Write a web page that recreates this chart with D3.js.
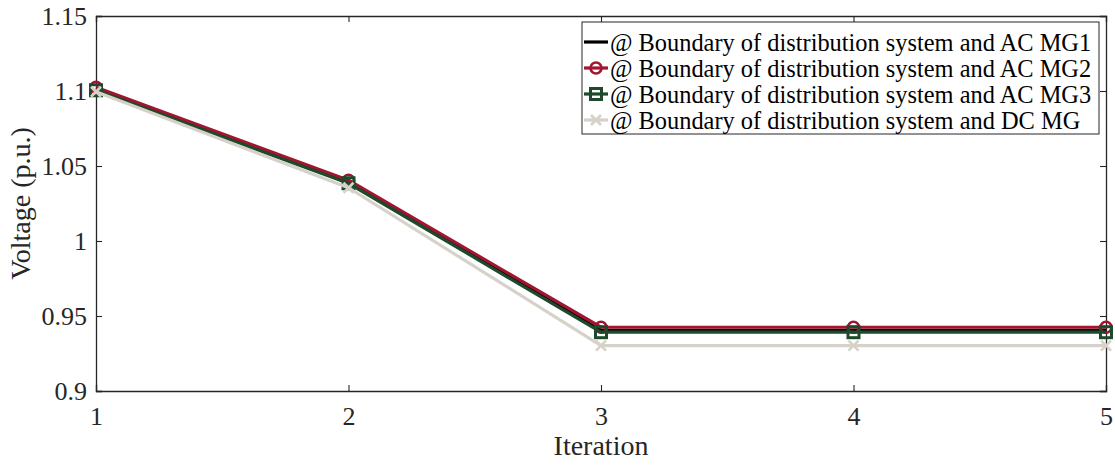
<!DOCTYPE html>
<html>
<head>
<meta charset="utf-8">
<script src="https://cdn.jsdelivr.net/npm/d3@7"></script>
<style>
  html, body { margin: 0; padding: 0; background: #fff; }
  svg { display: block; }
  svg text { font-family: "Liberation Serif", "Times New Roman", serif !important; }
  .tick text { font-size: 26px !important; fill: #262626; }
</style>
</head>
<body>
<svg id="chart" width="1115" height="465"></svg>
<script>
// Iterations on the x axis
const iterations = [1, 2, 3, 4, 5];

// Boundary voltages (p.u.) per iteration
const mg1Voltage = [1.1015, 1.0395, 0.9405, 0.9405, 0.9405];
const mg2Voltage = [1.1025, 1.0405, 0.9425, 0.9425, 0.9425];
const mg3Voltage = [1.1005, 1.0385, 0.9392, 0.9392, 0.9392];
const dcVoltage  = [1.0995, 1.0355, 0.9303, 0.9303, 0.9303];

const seriesNames = [
  "@ Boundary of distribution system and AC MG1",
  "@ Boundary of distribution system and AC MG2",
  "@ Boundary of distribution system and AC MG3",
  "@ Boundary of distribution system and DC MG"
];

const xTicks = [1, 2, 3, 4, 5];
const yTicks = [0.9, 0.95, 1, 1.05, 1.1, 1.15];

const series = [
  { name: seriesNames[0], values: mg1Voltage, color: "#000000", marker: "none" },
  { name: seriesNames[1], values: mg2Voltage, color: "#A2142F", marker: "circle" },
  { name: seriesNames[2], values: mg3Voltage, color: "#1D4A2B", marker: "square" },
  { name: seriesNames[3], values: dcVoltage,  color: "#D6D2CA", marker: "cross" }
];

const margin = { left: 96, right: 9, top: 16, bottom: 74 };
const W = 1115, H = 465;
const svg = d3.select("#chart");

const x = d3.scaleLinear().domain([1, 5]).range([margin.left, W - margin.right]);
const y = d3.scaleLinear().domain([0.9, 1.15]).range([H - margin.bottom, margin.top]);

const fmt = d => String(+d.toFixed(2));
const tickLen = 6;
const axisColor = "#262626";

// Axes with inward ticks, mirrored on top and right to box the plot
const gBottom = svg.append("g").attr("transform", `translate(0,${y(0.9)})`)
  .call(d3.axisBottom(x).tickValues(xTicks).tickSize(-tickLen).tickPadding(16).tickFormat(fmt));
const gLeft = svg.append("g").attr("transform", `translate(${x(1)},0)`)
  .call(d3.axisLeft(y).tickValues(yTicks).tickSize(-tickLen).tickPadding(9).tickFormat(fmt));
const gTop = svg.append("g").attr("transform", `translate(0,${y(1.15)})`)
  .call(d3.axisTop(x).tickValues(xTicks).tickSize(-tickLen).tickFormat(""));
const gRight = svg.append("g").attr("transform", `translate(${x(5)},0)`)
  .call(d3.axisRight(y).tickValues(yTicks).tickSize(-tickLen).tickFormat(""));

[gBottom, gLeft, gTop, gRight].forEach(g => {
  g.attr("font-family", null).attr("font-size", null);
  g.select(".domain").attr("stroke", axisColor).attr("stroke-width", 1.3);
  g.selectAll(".tick line").attr("stroke", axisColor).attr("stroke-width", 1.1);
});

// Axis titles
svg.append("text").attr("x", (x(1) + x(5)) / 2).attr("y", 455)
  .attr("text-anchor", "middle").attr("fill", "#262626")
  .style("font-size", "28px").text("Iteration");
svg.append("text").attr("transform", `translate(30,${(y(0.9) + y(1.15)) / 2}) rotate(-90)`)
  .attr("text-anchor", "middle").attr("fill", "#262626")
  .style("font-size", "28px").text("Voltage (p.u.)");

// Marker drawing
function drawMarker(g, type, color, cx, cy) {
  if (type === "circle") {
    g.append("circle").attr("cx", cx).attr("cy", cy).attr("r", 5.5)
      .attr("fill", "none").attr("stroke", color).attr("stroke-width", 2.6);
  } else if (type === "square") {
    g.append("rect").attr("x", cx - 5.5).attr("y", cy - 5.5).attr("width", 11).attr("height", 11)
      .attr("fill", "none").attr("stroke", color).attr("stroke-width", 3);
  } else if (type === "cross") {
    const s = 5;
    g.append("path").attr("d", `M${cx - s},${cy - s}L${cx + s},${cy + s}M${cx - s},${cy + s}L${cx + s},${cy - s}`)
      .attr("stroke", color).attr("stroke-width", 2.6).attr("fill", "none");
  }
}

// Series lines and markers
const line = d3.line().x((d, i) => x(iterations[i])).y(d => y(d));
series.forEach(s => {
  const g = svg.append("g");
  g.append("path").datum(s.values).attr("d", line)
    .attr("fill", "none").attr("stroke", s.color).attr("stroke-width", 3.2)
    .attr("stroke-linejoin", "round");
  s.values.forEach((v, i) => drawMarker(g, s.marker, s.color, x(iterations[i]), y(v)));
});

// Legend
const lg = svg.append("g");
const lx = 582, ly = 22, lw = 517, lh = 112;
lg.append("rect").attr("x", lx).attr("y", ly).attr("width", lw).attr("height", lh)
  .attr("fill", "#fff").attr("stroke", "#262626").attr("stroke-width", 1);
series.forEach((s, i) => {
  const cy = ly + 20 + i * 26;
  lg.append("line").attr("x1", lx + 2).attr("x2", lx + 26).attr("y1", cy).attr("y2", cy)
    .attr("stroke", s.color).attr("stroke-width", 3.2);
  drawMarker(lg, s.marker, s.color, lx + 14, cy);
  lg.append("text").attr("x", lx + 28).attr("y", cy).attr("dy", "0.35em")
    .attr("fill", "#000").style("font-size", "24.4px").text(s.name);
});
</script>
</body>
</html>
